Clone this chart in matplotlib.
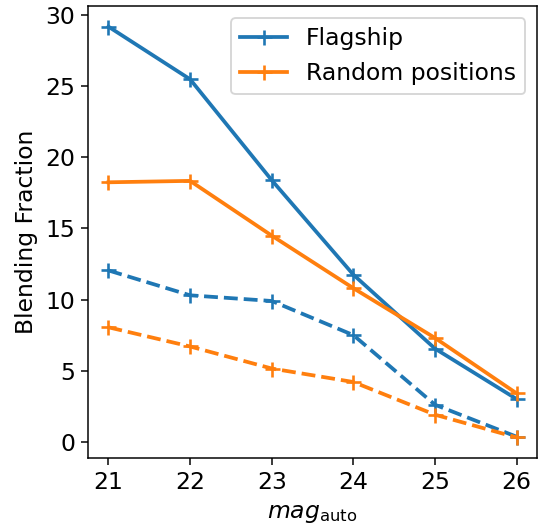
import matplotlib
matplotlib.use("Agg")
import matplotlib.pyplot as plt

mags = [21, 22, 23, 24, 25, 26]
flagship = [29.2, 25.5, 18.4, 11.75, 6.55, 3.0]
random_pos = [18.25, 18.35, 14.5, 10.8, 7.3, 3.4]
flagship_dash = [12.05, 10.3, 9.9, 7.5, 2.6, 0.35]
random_dash = [8.05, 6.7, 5.15, 4.2, 1.9, 0.3]

plt.rcParams['font.size'] = 12.5

fig = plt.figure(figsize=(541 / 135, 531 / 135), dpi=135)
ax = fig.add_axes([0.1627, 0.1375, 0.83, 0.851])

ax.plot(mags, flagship, '+-', color='C0', lw=2, ms=8, mew=1.4, label='Flagship')
ax.plot(mags, random_pos, '+-', color='C1', lw=2, ms=8, mew=1.4, label='Random positions')
ax.plot(mags, flagship_dash, '+--', color='C0', lw=2, ms=8, mew=1.4)
ax.plot(mags, random_dash, '+--', color='C1', lw=2, ms=8, mew=1.4)

ax.set_xticks(mags)
ax.set_xlabel(r'$mag_{\rm auto}$')
ax.set_ylabel('Blending Fraction')
ax.legend(loc='upper right')

fig.savefig('out.png', dpi=135)
